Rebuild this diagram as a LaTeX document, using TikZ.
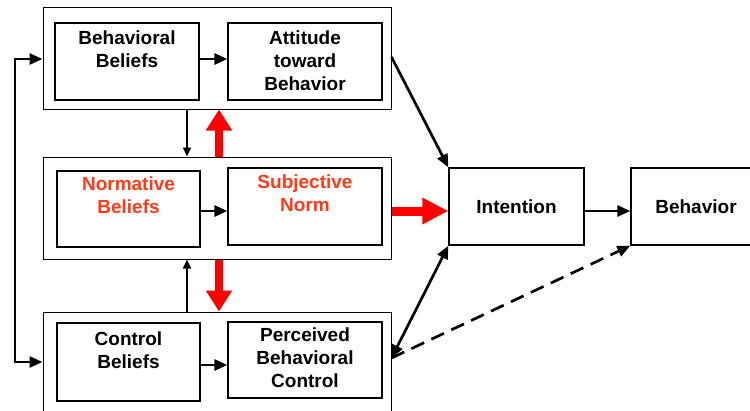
\documentclass[tikz,border=0pt]{standalone}
\usepackage{fontspec}
\setmainfont{Liberation Sans}
\usetikzlibrary{arrows.meta,calc}
\definecolor{redtxt}{HTML}{FF3A17}
\definecolor{redarr}{HTML}{FF0000}
\begin{document}
\begin{tikzpicture}[x=1pt,y=-1pt,
  outer/.style={draw,line width=1pt,minimum width=348pt,inner sep=0pt},
  inner/.style={draw,line width=1.3pt,inner sep=0pt},
  txt/.style={font=\fontsize{19}{23}\selectfont\bfseries,align=center,inner sep=0pt,anchor=north},
  blk/.style={line width=2.7pt,-{Triangle[length=13pt,width=11pt]}},
  sblk/.style={line width=1.8pt,-{Triangle[length=9pt,width=8pt]}},
  red/.style={draw=redarr,line width=8pt,-{Triangle[length=21pt,width=25pt]},redarr},
]
\useasboundingbox (0,0) rectangle (750,410);
\clip (0,0) rectangle (750,410);
% outer boxes
\node[outer,minimum height=102pt] (o1) at (217,58) {};
\node[outer,minimum height=102pt] (o2) at (217,208) {};
\node[outer,minimum height=108pt] (o3) at (217,366) {};
% inner boxes
\node[inner,minimum width=144pt,minimum height=77pt] (bb) at (127,61.5) {};
\node[inner,minimum width=154pt,minimum height=77pt] (att) at (305,61.5) {};
\node[inner,minimum width=143pt,minimum height=76pt] (nb) at (128.5,209) {};
\node[inner,minimum width=154pt,minimum height=77pt] (sn) at (305,206.5) {};
\node[inner,minimum width=143pt,minimum height=78pt] (cb) at (128.5,362) {};
\node[inner,minimum width=154pt,minimum height=76pt] (pbc) at (305,360) {};
% texts
\node[txt] (bbt) at ([yshift=-7.7pt]bb.north) {Behavioral\\Beliefs};
\node[txt] (attt) at ([yshift=-8.5pt]att.north) {Attitude\\toward\\Behavior};
\node[txt,text=redtxt] (nbt) at ([yshift=-5.7pt]nb.north) {Normative\\Beliefs};
\node[txt,text=redtxt] (snt) at ([yshift=-7pt]sn.north) {Subjective\\Norm};
\node[txt] (cbt) at ([yshift=-8.7pt]cb.north) {Control\\Beliefs};
\node[txt] (pbct) at ([yshift=-6pt]pbc.north) {Perceived\\Behavioral\\Control};
% right boxes
\node[inner,minimum width=135pt,minimum height=77pt,font=\fontsize{19}{23}\selectfont\bfseries] (int) at (516.5,206.5) {Intention};
\node[inner,minimum width=130pt,minimum height=77pt,font=\fontsize{19}{23}\selectfont\bfseries] (beh) at (696,206.5) {Behavior};
% left loop
\coordinate (lt) at (15,59);
\coordinate (lb) at (15,362);
\draw[blk,line join=miter] (lb) -- (lt) -- (lt -| o1.west);
\draw[blk,line join=miter] (lt) -- (lb) -- (lb -| o3.west);
% inner arrows
\draw[blk] ([yshift=2.5pt]bb.east) -- ([yshift=2.5pt]bb.east -| att.west);
\draw[blk] ([yshift=-2pt]nb.east) -- ([yshift=-2pt]nb.east -| sn.west);
\draw[blk] ([yshift=-3pt]cb.east) -- ([yshift=-3pt]cb.east -| pbc.west);
\draw[blk] ([yshift=-4.5pt]int.east) -- ([yshift=-4.5pt]int.east -| beh.west);
% vertical small black arrows
\coordinate (vx) at (187,0);
\draw[sblk] (vx |- o1.south) -- (vx |- o2.north);
\draw[sblk] (vx |- o3.north) -- (vx |- o2.south);
% red arrows
\coordinate (rx) at (219,0);
\draw[red] (rx |- o2.north) -- (rx |- o1.south);
\draw[red] (rx |- o2.south) -- (rx |- o3.north);
\draw[red,line width=9pt,-{Triangle[length=26pt,width=25pt]}] ([yshift=-3pt]o2.east) -- ([yshift=-3pt]o2.east -| int.west);
% diagonals
\draw[blk] ([yshift=1pt]o1.east) -- (int.north west);
\draw[line width=2.7pt,{Triangle[length=13pt,width=11pt]}-{Triangle[length=13pt,width=11pt]}] ([yshift=8pt]o3.east) -- (int.south west);
\draw[blk,dash pattern=on 14pt off 8pt] ([yshift=8pt]o3.east) -- (beh.south west);
\end{tikzpicture}
\end{document}
